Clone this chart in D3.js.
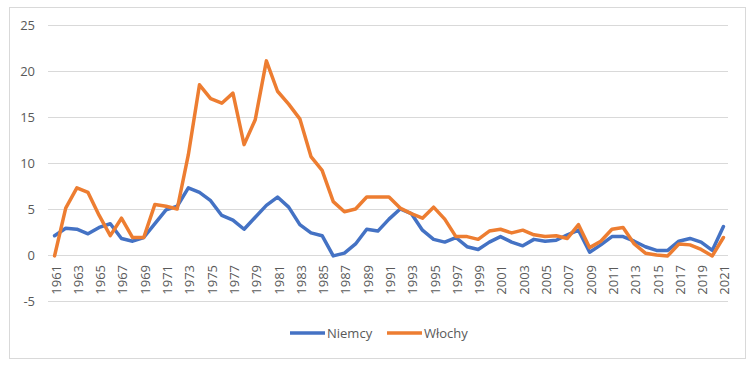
<!DOCTYPE html>
<html><head><meta charset="utf-8">
<script src="https://cdn.jsdelivr.net/npm/d3@7"></script>
<style>body{margin:0;background:#fff}svg{display:block}text{font-family:"Open Sans","Liberation Sans",Arial,sans-serif;fill:#595959}</style>
</head><body><svg id="c" width="756" height="370"></svg>
<script>
const years = d3.range(1961, 2022);
const seriesNames = ["Niemcy", "Włochy"];
const niemcy = [2.1,2.9,2.8,2.3,3.0,3.4,1.8,1.5,1.9,3.4,4.9,5.3,7.3,6.8,5.9,4.3,3.8,2.8,4.1,5.4,6.3,5.2,3.3,2.4,2.1,-0.1,0.2,1.2,2.8,2.6,3.9,5.0,4.5,2.7,1.7,1.4,1.9,0.9,0.6,1.4,2.0,1.4,1.0,1.7,1.5,1.6,2.2,2.7,0.3,1.1,2.0,2.0,1.5,0.9,0.5,0.5,1.5,1.8,1.4,0.5,3.1];
const wlochy = [-0.1,5.1,7.3,6.8,4.3,2.1,4.0,1.9,1.9,5.5,5.3,5.0,10.9,18.5,17.0,16.5,17.6,12.0,14.7,21.1,17.8,16.4,14.8,10.7,9.2,5.8,4.7,5.0,6.3,6.3,6.3,5.1,4.5,4.0,5.2,3.9,2.0,2.0,1.7,2.6,2.8,2.4,2.7,2.2,2.0,2.1,1.8,3.3,0.8,1.5,2.8,3.0,1.2,0.2,0.0,-0.1,1.2,1.1,0.6,-0.1,1.9];
const yTicks = [-5,0,5,10,15,20,25];
const colors = ["#4472C4", "#ED7D31"];

const svg = d3.select("#c");
svg.append("rect").attr("x",9.5).attr("y",7.5).attr("width",736).attr("height",351)
  .attr("fill","#fff").attr("stroke","#d9d9d9");

const x = d3.scaleBand().domain(years).range([49, 729]);
const y = d3.scaleLinear().domain([-5, 25]).range([301, 25]);

const gy = svg.append("g");
gy.selectAll("line").data(yTicks).join("line")
  .attr("x1",48).attr("x2",728).attr("y1",d=>Math.round(y(d))+0.5).attr("y2",d=>Math.round(y(d))+0.5)
  .attr("stroke","#d9d9d9").attr("stroke-width",1);
gy.selectAll("text").data(yTicks).join("text")
  .attr("x",35).attr("y",d=>y(d)).attr("dy","0.35em").attr("text-anchor","end")
  .attr("font-size",13).text(d=>d);

const labYears = years.filter((d,i)=>i%2===0);
svg.append("g").selectAll("text").data(labYears).join("text")
  .attr("transform",d=>`translate(${x(d)+x.bandwidth()/2+6},${y(0)+10}) rotate(-90)`)
  .attr("text-anchor","end").attr("font-size",13).text(d=>d);

const line = d3.line().x((d,i)=>x(years[i])+x.bandwidth()/2).y(d=>y(d));
[niemcy, wlochy].forEach((s,k)=>{
  svg.append("path").attr("d",line(s)).attr("fill","none").attr("stroke",colors[k])
    .attr("stroke-width",3.5).attr("stroke-linejoin","round").attr("stroke-linecap","round");
});

const lg = [{x:290,n:0},{x:387,n:1}];
lg.forEach(l=>{
  svg.append("line").attr("x1",l.x).attr("x2",l.x+35).attr("y1",333).attr("y2",333)
    .attr("stroke",colors[l.n]).attr("stroke-width",3.5);
  svg.append("text").attr("x",l.x+37).attr("y",333).attr("dy","0.35em").attr("font-size",13).text(seriesNames[l.n]);
});
</script></body></html>
